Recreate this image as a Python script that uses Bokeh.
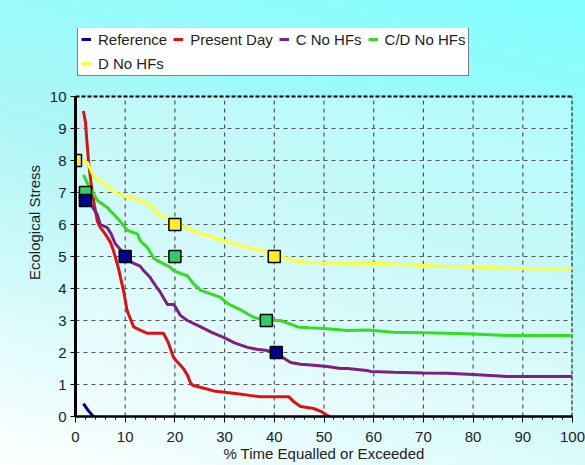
from bokeh.plotting import figure
from bokeh.models import Range1d, SingleIntervalTicker, FixedTicker, Legend, LegendItem, BoxAnnotation
from bokeh.embed import file_html
from bokeh.resources import INLINE

# ---- data ----
ref_x = [1.6, 2.5, 3.6]
ref_y = [0.4, 0.2, 0.0]

present_x = [1.6, 2.0, 2.6, 3.2, 3.8, 4.4, 5.0, 6.0, 7.0, 7.6, 8.6, 9.7, 10.4, 11.7, 13.0, 14.5,
             17.7, 18.7, 19.7, 20.5, 21.7, 22.5, 23.2, 23.7, 25.5, 27.8, 30.0, 32.6, 35.0, 37.2,
             40.0, 42.9, 44.0, 45.3, 47.9, 49.5, 50.7, 51.2]
present_y = [9.55, 9.2, 8.0, 7.2, 6.6, 6.1, 5.9, 5.7, 5.45, 5.2, 4.66, 3.9, 3.3, 2.8, 2.7, 2.6,
             2.6, 2.3, 1.85, 1.7, 1.5, 1.3, 1.03, 0.97, 0.9, 0.8, 0.76, 0.71, 0.66, 0.62,
             0.62, 0.62, 0.45, 0.31, 0.25, 0.15, 0.03, 0.0]

c_x = [2.0, 3.0, 4.4, 5.0, 6.4, 7.2, 8.0, 9.7, 10.4, 11.5, 13.0, 13.7, 15.0, 16.5, 17.0, 18.5,
       19.8, 21.1, 22.5, 25.2, 27.5, 29.8, 32.0, 34.6, 36.5, 38.6, 40.4, 43.3, 45.3, 47.9,
       50.7, 53.3, 54.7, 58.6, 59.4, 64.0, 70.0, 74.8, 80.0, 86.9, 93.0, 100.0]
c_y = [6.8, 6.65, 6.3, 6.0, 5.9, 5.7, 5.4, 5.1, 4.9, 4.8, 4.7, 4.56, 4.35, 4.0, 3.9, 3.5,
       3.5, 3.16, 3.0, 2.8, 2.62, 2.47, 2.3, 2.16, 2.1, 2.06, 1.97, 1.69, 1.63, 1.6,
       1.56, 1.5, 1.5, 1.44, 1.41, 1.38, 1.36, 1.35, 1.31, 1.25, 1.25, 1.25]

cd_x = [1.6, 2.5, 3.6, 4.4, 6.4, 9.0, 10.4, 12.5, 13.0, 14.5, 15.7, 16.5, 19.1, 19.7, 21.1,
        22.5, 23.7, 25.2, 29.2, 30.6, 33.0, 35.8, 38.4, 41.2, 43.0, 44.7, 47.0, 50.0, 54.7,
        58.8, 64.0, 70.0, 74.8, 80.0, 86.9, 93.0, 100.0]
cd_y = [7.55, 7.25, 6.97, 6.75, 6.53, 6.1, 5.82, 5.7, 5.5, 5.28, 4.95, 4.87, 4.66, 4.56, 4.47,
        4.4, 4.15, 3.94, 3.72, 3.53, 3.35, 3.1, 3.0, 3.0, 2.9, 2.8, 2.77, 2.75, 2.69,
        2.7, 2.63, 2.62, 2.6, 2.58, 2.53, 2.53, 2.53]

d_x = [0.4, 2.4, 3.6, 5.6, 8.4, 10.4, 11.0, 13.0, 14.5, 16.5, 18.5, 20.5, 23.7, 25.2, 29.8,
       34.6, 39.8, 43.9, 47.3, 50.0, 55.0, 61.4, 67.0, 74.8, 80.0, 89.5, 95.0, 100.0]
d_y = [8.06, 7.94, 7.5, 7.28, 6.97, 6.85, 6.85, 6.75, 6.66, 6.34, 6.2, 6.03, 5.8, 5.72, 5.5,
       5.28, 5.1, 4.87, 4.81, 4.8, 4.79, 4.78, 4.74, 4.69, 4.67, 4.62, 4.62, 4.62]

# target markers
d_mark_x = [0, 20, 40]
d_mark_y = [8, 6, 5]
cd_mark_x = [2, 20, 38.4]
cd_mark_y = [7, 5, 3]
c_mark_x = [2, 10, 40.4]
c_mark_y = [6.75, 5, 2]

series_names = ["Reference", "Present Day", "C No HFs", "C/D No HFs", "D No HFs"]
series_colors = ["#00008b", "#e01010", "#7f1f7f", "#33dd22", "#ffff33"]

x_ticks = [0, 10, 20, 30, 40, 50, 60, 70, 80, 90, 100]
y_ticks = [0, 1, 2, 3, 4, 5, 6, 7, 8, 9, 10]
X_MIN, X_MAX = 0, 100
Y_MIN, Y_MAX = 0, 10

x_title = "% Time Equalled or Exceeded"
y_title = "Ecological Stress"

FONT = "Liberation Sans"

# frame extends above the data area to host the legend (y up to ~12)
p = figure(width=585, height=465, output_backend="svg", toolbar_location=None,
           x_range=Range1d(X_MIN, X_MAX), y_range=Range1d(Y_MIN, 12.125),
           min_border_left=75, min_border_right=13, min_border_top=28, min_border_bottom=49)

p.styles = {"background": "linear-gradient(195deg, #80ffff 0%, #b0f6f6 45%, #ffffff 100%)"}
p.border_fill_color = None
p.background_fill_color = None
p.outline_line_color = None
p.xgrid.visible = False
p.ygrid.visible = False

# lighter plot-area background
p.add_layout(BoxAnnotation(left=X_MIN, right=X_MAX, bottom=Y_MIN, top=Y_MAX,
                           fill_color="white", fill_alpha=0.3, line_color=None, level="underlay"))

p.xaxis.ticker = SingleIntervalTicker(interval=10, num_minor_ticks=5)
p.yaxis.ticker = FixedTicker(ticks=y_ticks)
p.yaxis.bounds = (Y_MIN, Y_MAX)

for ax in (p.xaxis[0], p.yaxis[0]):
    ax.axis_line_color = "black"
    ax.major_tick_line_color = "black"
    ax.major_tick_in = 0
    ax.major_tick_out = 5
    ax.minor_tick_in = 0
    ax.minor_tick_out = 3
    ax.minor_tick_line_color = "black"
    ax.major_label_text_font = FONT
    ax.major_label_text_font_size = "15px"
    ax.major_label_text_color = "#222222"
    ax.axis_label_text_font = FONT
    ax.axis_label_text_font_size = "15px"
    ax.axis_label_text_font_style = "normal"
    ax.axis_label_text_color = "#222222"
    ax.major_label_standoff = 4

p.xaxis.axis_line_width = 2.5
p.yaxis.axis_line_width = 3
p.xaxis.major_tick_out = 6
p.xaxis.major_label_standoff = 9
p.yaxis.minor_tick_line_color = None
p.xaxis.axis_label = x_title
p.yaxis.axis_label = y_title
p.xaxis.axis_label_standoff = 0
p.yaxis.axis_label_standoff = 4

# dashed grid, limited to the data area
vx = x_ticks[1:-1]
p.segment(x0=vx, y0=[Y_MIN] * len(vx), x1=vx, y1=[Y_MAX] * len(vx),
          line_color="#555555", line_dash="4 4", line_width=1.2)
hy = y_ticks[1:-1]
p.segment(x0=[X_MIN] * len(hy), y0=hy, x1=[X_MAX] * len(hy), y1=hy,
          line_color="#555555", line_dash="4 4", line_width=1.2)
# dashed top and right borders
p.segment(x0=[X_MIN, X_MAX], y0=[Y_MAX, Y_MIN], x1=[X_MAX, X_MAX], y1=[Y_MAX, Y_MAX],
          line_color="black", line_dash="4 2", line_width=2)

xs = [ref_x, present_x, c_x, cd_x, d_x]
ys = [ref_y, present_y, c_y, cd_y, d_y]
renderers = []
for x, y, col in zip(xs, ys, series_colors):
    r = p.line(x, y, line_color=col, line_width=3)
    renderers.append(r)

p.scatter(d_mark_x, d_mark_y, marker="square", size=12, fill_color="#ffee22", line_color="black", line_width=1.5)
p.scatter(cd_mark_x, cd_mark_y, marker="square", size=12, fill_color="#33cc66", line_color="black", line_width=1.5)
p.scatter(c_mark_x, c_mark_y, marker="square", size=12, fill_color="#000090", line_color="black", line_width=1.5)

legend = Legend(items=[LegendItem(label=n, renderers=[r]) for n, r in zip(series_names, renderers)],
                location=(2, 340), orientation="horizontal", ncols=4)
legend.label_text_font = FONT
legend.label_text_font_size = "15px"
legend.label_text_color = "#222222"
legend.glyph_width = 10
legend.glyph_height = 18
legend.label_height = 18
legend.label_standoff = 7
legend.spacing = 6
legend.padding = 3
legend.margin = 0
legend.border_line_color = "black"
legend.border_line_width = 1.5
legend.background_fill_color = "white"
legend.background_fill_alpha = 1
p.add_layout(legend, "center")

open("out.html", "w").write(file_html(p, INLINE))
